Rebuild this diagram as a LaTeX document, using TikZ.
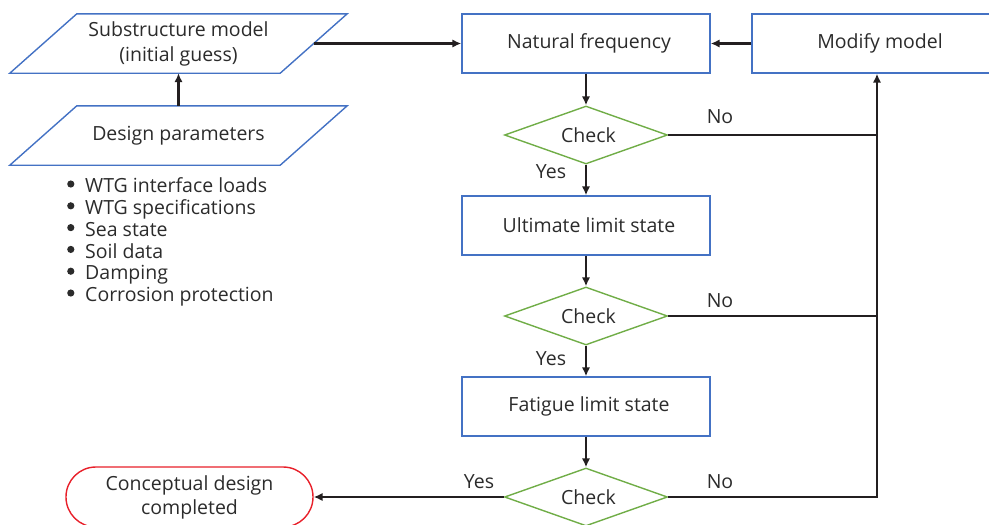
\documentclass[tikz,border=0pt]{standalone}
\usepackage{fontspec}
\setmainfont{Open Sans}
\usetikzlibrary{shapes.geometric,arrows.meta,calc}

\definecolor{boxblue}{HTML}{4472C4}
\definecolor{checkgreen}{HTML}{70AD47}
\definecolor{endred}{HTML}{E8202A}
\definecolor{ink}{HTML}{2B2B2B}
\definecolor{wirecol}{HTML}{231F20}

% round list marker
\newcommand{\listdot}{\makebox[19pt][l]{\hspace{1pt}\raisebox{5pt}{\tikz\fill[ink] (0,0) circle (3.6pt);}}}

\begin{document}
\begin{tikzpicture}[x=1pt,y=-1pt,
  every node/.style={font=\fontsize{19.5}{25}\selectfont, text=ink},
  stepbox/.style={draw=boxblue, line width=1.4pt, rectangle,
    minimum width=248pt, minimum height=59pt, inner sep=0pt},
  parabody/.style={rectangle, minimum width=270pt, minimum height=59pt,
    inner sep=0pt, align=center},
  paraline/.style={draw=boxblue, line width=1.4pt, line join=miter},
  checkbox/.style={draw=checkgreen, line width=1.4pt, diamond, aspect=2.8,
    minimum width=163pt, minimum height=58pt, inner sep=0pt},
  doneshape/.style={draw=endred, line width=1.4pt, rectangle,
    rounded corners=29.9pt, minimum width=247pt, minimum height=60pt,
    inner sep=0pt, align=center, font=\fontsize{19.5}{24}\selectfont},
  flow/.style={draw=wirecol, line width=2.3pt, -{Latex[length=9pt,width=8.5pt]}},
  link/.style={draw=wirecol, line width=2.3pt},
  lbl/.style={inner sep=0pt}
]
\useasboundingbox (0,0) rectangle (989,525);
\clip (0,0) rectangle (989,525);

% input side: two slanted data blocks
\node[parabody] (sub) at (178.5,43.5) {Substructure model\\(initial guess)};
\node[parabody] (des) at (178.5,135.5) {Design parameters};
\foreach \p in {sub,des}
  \draw[paraline] ($(\p.north west)+(33.5,0)$) -- ($(\p.north east)+(33.5,0)$)
    -- ($(\p.south east)+(-33.5,0)$) -- ($(\p.south west)+(-33.5,0)$) -- cycle;

\node[anchor=west, align=left, inner sep=0pt,
      font=\fontsize{19.5}{21.8}\selectfont] (inputs) at (66,242)
  {\listdot WTG interface loads\\
   \listdot WTG specifications\\
   \listdot Sea state\\
   \listdot Soil data\\
   \listdot Damping\\
   \listdot Corrosion protection};

% main design loop
\node[stepbox] (nf) at (586,43.5) {\hspace*{6pt}Natural frequency};
\node[stepbox, minimum width=250pt] (mod) at (877,43.5) {\hspace*{6pt}Modify model};
\node[checkbox] (c1) at (586,135) {\hspace*{5pt}Check};
\node[stepbox] (uls) at (586,225.5) {\hspace*{6pt}Ultimate limit state};
\node[checkbox] (c2) at (586,316) {\hspace*{5pt}Check};
\node[stepbox] (fls) at (586,406.5) {\hspace*{6pt}Fatigue limit state};
\node[checkbox] (c3) at (586,497) {\hspace*{5pt}Check};
\node[doneshape] (done) at (189.5,497) {Conceptual design\\completed};
\coordinate (bus) at (877,497);

% connectors
\draw[flow] (des) -- (sub);
\draw[flow] (sub.east) -- (nf.west);
\draw[flow] (mod) -- (nf);
\draw[flow] (nf) -- (c1);
\draw[flow] (c1) -- (uls);
\draw[flow] (uls) -- (c2);
\draw[flow] (c2) -- (fls);
\draw[flow] (fls) -- (c3);
\draw[flow] (c3) -- (done);
\draw[flow] (c3.east) -- (bus) -- (mod.south);
\draw[link] (c1.east) -- (c1.east -| bus);
\draw[link] (c2.east) -- (c2.east -| bus);

% branch labels
\node[lbl] (no1) at (720,117) {No};
\node[lbl] (no2) at (720,301) {No};
\node[lbl] (no3) at (720,482) {No};
\node[lbl] (yes1) at (551,172) {Yes};
\node[lbl] (yes2) at (551,359) {Yes};
\node[lbl] (yes3) at (479,482) {Yes};
\end{tikzpicture}
\end{document}
